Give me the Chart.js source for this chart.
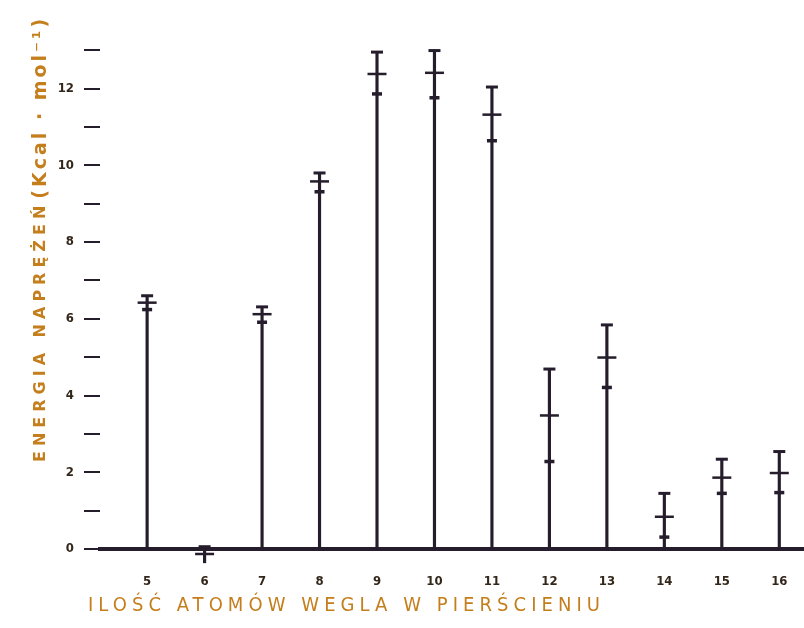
<!DOCTYPE html>
<html>
<head>
<meta charset="utf-8">
<script src="https://cdn.jsdelivr.net/npm/chart.js@4/dist/chart.umd.min.js"></script>
<style>
html, body { margin: 0; padding: 0; background: #fff; }
</style>
</head>
<body>
<canvas id="myChart" width="804" height="628"></canvas>
<script>
// ring size (carbon atoms) and strain energy readings
var atoms = [5, 6, 7, 8, 9, 10, 11, 12, 13, 14, 15, 16];
var highs = [6.60, 0.06, 6.31, 9.80, 12.95, 12.99, 12.04, 4.69, 5.84, 1.45, 2.34, 2.54];
var mids  = [6.42, -0.13, 6.12, 9.58, 12.38, 12.41, 11.32, 3.48, 4.99, 0.84, 1.86, 1.98];
var lows  = [6.24, -0.36, 5.91, 9.31, 11.86, 11.76, 10.64, 2.28, 4.21, 0.31, 1.45, 1.47];
var yTicks = [0, 1, 2, 3, 4, 5, 6, 7, 8, 9, 10, 11, 12, 13];

var yTitleA = 'ENERGIA NAPRĘŻEŃ';
var yTitleB = '(Kcal · mol⁻¹)';
var xTitle = 'ILOŚĆ ATOMÓW WEGLA W PIERŚCIENIU';

var ink = '#251d2c';
var labelInk = '#33261a';
var orange = '#c47e1c';

function points(values) {
  return atoms.map(function (a, i) { return { x: a, y: values[i] }; });
}

var titles = {
  id: 'titles',
  afterDraw: function (chart) {
    var ctx = chart.ctx;
    ctx.save();
    ctx.fillStyle = orange;
    ctx.textBaseline = 'middle';
    ctx.textAlign = 'left';

    // y title, rotated
    ctx.translate(41, 462);
    ctx.rotate(-Math.PI / 2);
    ctx.font = 'bold 16px "DejaVu Sans"';
    ctx.letterSpacing = '5px';
    ctx.fillText(yTitleA, 0, 0);
    var w = ctx.measureText(yTitleA).width;
    ctx.font = 'bold 19px "DejaVu Sans"';
    ctx.letterSpacing = '3px';
    ctx.fillText(yTitleB, w + 2, 0);
    ctx.restore();

    // x title
    ctx.save();
    ctx.fillStyle = orange;
    ctx.textBaseline = 'middle';
    ctx.textAlign = 'left';
    ctx.font = '20px "DejaVu Sans Condensed"';
    var plain = ctx.measureText(xTitle).width;
    var sp = (512 - plain) / (xTitle.length - 1);
    ctx.letterSpacing = sp + 'px';
    ctx.fillText(xTitle, 88, 606);
    ctx.restore();
  }
};

var ctx = document.getElementById('myChart').getContext('2d');
var myChart = new Chart(ctx, {
  type: 'bar',
  data: {
    datasets: [
      {
        type: 'bar',
        data: atoms.map(function (a, i) { return { x: a, y: [Math.min(0, lows[i]), highs[i]] }; }),
        backgroundColor: ink,
        barThickness: 2.5,
        clip: false,
        order: 2
      },
      {
        type: 'scatter',
        data: points(highs),
        pointStyle: 'line',
        pointRadius: 6,
        borderColor: ink,
        borderWidth: 3,
        clip: false,
        order: 1
      },
      {
        type: 'scatter',
        data: points(mids),
        pointStyle: 'line',
        pointRadius: 9.5,
        borderColor: ink,
        borderWidth: 2.5,
        clip: false,
        order: 1
      },
      {
        type: 'scatter',
        data: points(lows),
        pointStyle: 'line',
        pointRadius: 5,
        borderColor: ink,
        borderWidth: 3.5,
        clip: false,
        order: 1
      }
    ]
  },
  options: {
    responsive: false,
    animation: false,
    devicePixelRatio: 1,
    layout: { autoPadding: false, padding: { top: 31, right: 0, left: 0, bottom: 0 } },
    plugins: {
      legend: { display: false },
      tooltip: { enabled: false }
    },
    scales: {
      x: {
        type: 'linear',
        min: 4.18,
        max: 16.43,
        offset: false,
        afterBuildTicks: function (s) { s.ticks = atoms.map(function (v) { return { value: v }; }); },
        afterFit: function (s) { s.height = 79; s.paddingLeft = 0; s.paddingRight = 0; },
        grid: { display: false, drawTicks: false },
        border: { display: true, color: ink, width: 4 },
        ticks: {
          padding: 25,
          color: labelInk,
          font: { family: 'DejaVu Sans Condensed', size: 13, weight: 'bold' },
          maxRotation: 0,
          autoSkip: false
        }
      },
      y: {
        min: 0,
        max: 13.5,
        afterBuildTicks: function (s) { s.ticks = yTicks.map(function (v) { return { value: v }; }); },
        afterFit: function (s) { s.width = 100; s.paddingTop = 0; s.paddingBottom = 0; },
        grid: { drawOnChartArea: false, tickLength: 16, tickColor: ink, lineWidth: 2 },
        border: { display: false },
        ticks: {
          padding: 10,
          color: labelInk,
          font: { family: 'DejaVu Sans Condensed', size: 13, weight: 'bold' },
          callback: function (v) { return v % 2 === 0 ? v : ''; }
        }
      }
    }
  },
  plugins: [titles]
});
</script>
</body>
</html>
